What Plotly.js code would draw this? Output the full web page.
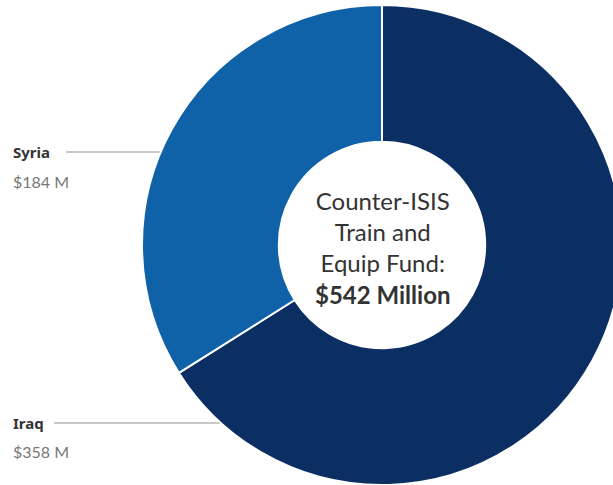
<!DOCTYPE html>
<html>
<head>
<meta charset="utf-8">
<script src="https://cdn.plot.ly/plotly-3.0.1.min.js"></script>
<style>
html,body{margin:0;padding:0;overflow:hidden;background:#fff;width:613px;height:485px;}
#chart{width:630px;height:490px;}
</style>
</head>
<body>
<div id="chart"></div>
<script>
// Data
const categories = ['Iraq', 'Syria'];
const values = [358, 184];
const valueLabels = ['$358 M', '$184 M'];
const colors = ['#0b2e63', '#1062a8'];
const centerLines = ['Counter-ISIS', 'Train and', 'Equip Fund:'];
const totalLabel = '$542 Million';

// Pixel geometry helpers (plot area: left 142, top 5, 480x480)
const L = 142, T = 5, S = 480;
const px = x => (x - L) / S;
const py = y => 1 - (y - T) / S;

const FONT = 'Lato, "Source Sans Pro", "Noto Sans", sans-serif';

const trace = {
  type: 'pie',
  labels: categories,
  values: values,
  sort: false,
  direction: 'clockwise',
  rotation: 0,
  hole: 0.43,
  textinfo: 'none',
  hoverinfo: 'none',
  showlegend: false,
  marker: {colors: colors, line: {color: '#ffffff', width: 2}},
  domain: {x: [0, 1], y: [0, 1]}
};

// label anchor rows (pixel y of name line, value line, line end x)
const labelRows = {Iraq: {y: 423, vy: 451, x1: 225, x0: 54}, Syria: {y: 152, vy: 181, x1: 165, x0: 66}};

const annotations = [{
  xref: 'paper', yref: 'paper',
  x: px(382), y: py(247),
  xanchor: 'center', yanchor: 'middle',
  showarrow: false,
  align: 'center',
  text: centerLines.join('<br>') + '<br><b>' + totalLabel + '</b>',
  font: {family: FONT, size: 24, color: '#333333'}
}];
const shapes = [];
categories.forEach((c, i) => {
  const r = labelRows[c];
  annotations.push({
    xref: 'paper', yref: 'paper', x: px(11), y: py(r.y),
    xanchor: 'left', yanchor: 'middle', showarrow: false,
    text: '<b>' + c + '</b>',
    font: {family: '"Noto Sans", sans-serif', size: 15, color: '#333333'}
  });
  annotations.push({
    xref: 'paper', yref: 'paper', x: px(11), y: py(r.vy),
    xanchor: 'left', yanchor: 'middle', showarrow: false,
    text: valueLabels[i],
    font: {family: FONT, size: 16, color: '#777777'}
  });
  shapes.push({
    type: 'line', xref: 'paper', yref: 'paper', layer: 'below',
    x0: px(r.x0), x1: px(r.x1), y0: py(r.y), y1: py(r.y),
    line: {color: '#c8c8c8', width: 2}
  });
});

const layout = {
  width: 630, height: 490,
  margin: {l: L, r: 630 - L - S, t: T, b: 490 - T - S, pad: 0},
  paper_bgcolor: '#ffffff',
  plot_bgcolor: '#ffffff',
  showlegend: false,
  annotations: annotations,
  shapes: shapes
};

Plotly.newPlot('chart', [trace], layout, {displayModeBar: false, staticPlot: true});
</script>
</body>
</html>
